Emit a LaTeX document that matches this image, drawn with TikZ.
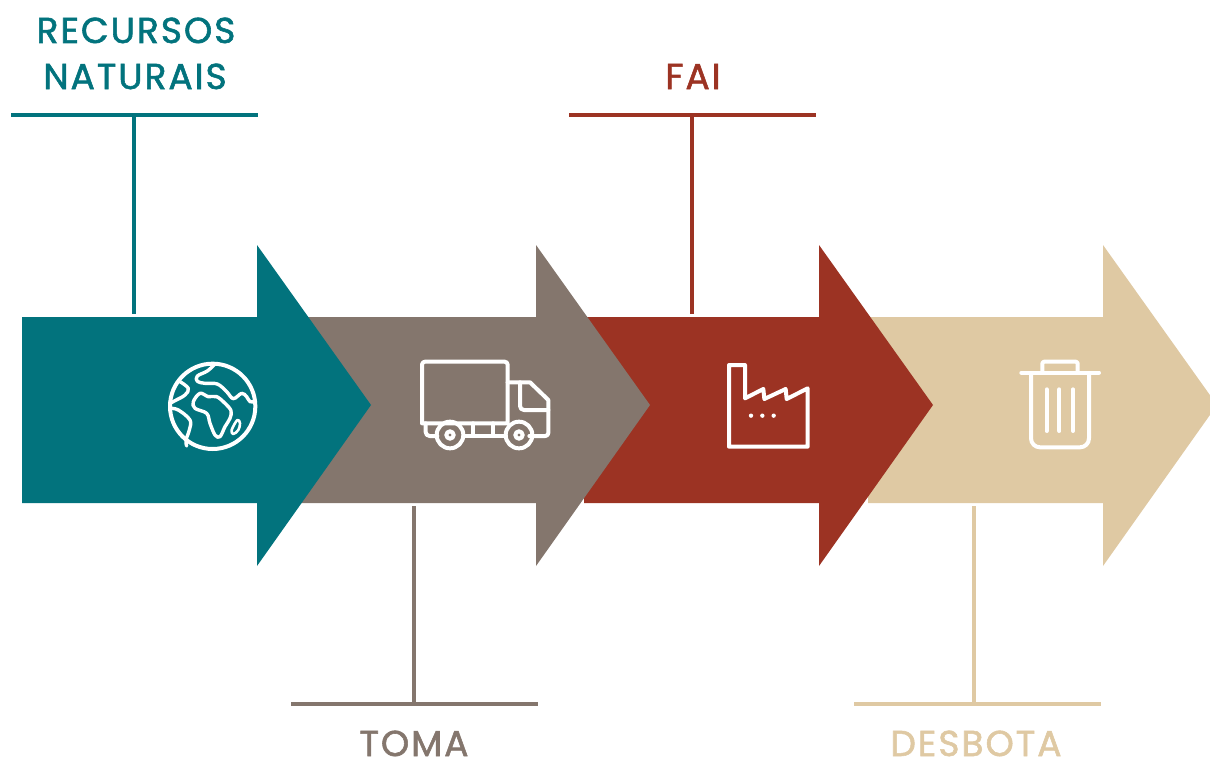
\documentclass[tikz,border=0pt]{standalone}
\usepackage{fontspec}
\setmainfont{Poppins}[RawFeature={embolden=1.6},LetterSpace=5.5]
\definecolor{cteal}{HTML}{02737D}
\definecolor{cgray}{HTML}{84766D}
\definecolor{cred}{HTML}{9C3323}
\definecolor{ctan}{HTML}{DFC9A3}
\tikzset{
  lab/.style={inner sep=0pt,font=\fontsize{36}{36}\selectfont,anchor=base},
  conn/.style={line width=4.5pt},
  icon/.style={draw=white,line width=4pt,line join=round,line cap=round},
}
\newcommand{\bigarrow}[2]{%
  \fill[#2] (#1,317) -- ++(235,0) -- ++(0,-72) -- ++(114,160) -- ++(-114,161) -- ++(0,-63) -- ++(-235,0) -- cycle;}
\begin{document}
\begin{tikzpicture}[x=1pt,y=-1pt]
\useasboundingbox (0,0) rectangle (1210,760);
% arrows, last one lowest
\bigarrow{868}{ctan}
\bigarrow{584}{cred}
\bigarrow{301}{cgray}
\bigarrow{22}{cteal}
% labels
\node[lab,text=cteal] (rec) at (136,43) {RECURSOS};
\node[lab,text=cteal] (nat) at (135,89) {NATURAIS};
\node[lab,text=cred] (fai) at (693,89) {FAI};
\node[lab,text=cgray] (toma) at (414,756) {TOMA};
\node[lab,text=ctan] (des) at (976,756) {DESBOTA};
% connectors
\coordinate (b1l) at (11,115); \coordinate (b1r) at (258,115);
\coordinate (b1m) at (134,115); \coordinate (a1) at (134,314);
\draw[conn,cteal] (b1l) -- (b1r); \draw[conn,cteal] (b1m) -- (a1);
\coordinate (b2l) at (291,704); \coordinate (b2r) at (538,704);
\coordinate (b2m) at (414,704); \coordinate (a2) at (414,506);
\draw[conn,cgray] (b2l) -- (b2r); \draw[conn,cgray] (b2m) -- (a2);
\coordinate (b3l) at (569,115); \coordinate (b3r) at (816,115);
\coordinate (b3m) at (692,115); \coordinate (a3) at (692,314);
\draw[conn,cred] (b3l) -- (b3r); \draw[conn,cred] (b3m) -- (a3);
\coordinate (b4l) at (854,704); \coordinate (b4r) at (1101,704);
\coordinate (b4m) at (974,704); \coordinate (a4) at (974,506);
\draw[conn,ctan] (b4l) -- (b4r); \draw[conn,ctan] (b4m) -- (a4);
% globe
\begin{scope}[shift={(150,340)},x=0.33333pt,y=-0.33333pt]
\draw[icon] (188,199) circle[radius=128];
\draw[icon,line width=3.4pt] plot[smooth,tension=0.6] coordinates {(195,72) (172,93) (142,108) (142,124) (165,130) (202,132) (230,155) (250,176) (275,160) (290,170) (300,185) (316,185)};
\draw[icon,line width=3.4pt] plot[smooth,tension=0.6] coordinates {(90,125) (115,145) (105,165) (75,182) (60,190)};
\draw[icon,line width=3.4pt] plot[smooth,tension=0.6] coordinates {(60,205) (85,210) (120,240) (118,270) (108,300) (110,318)};
\draw[icon,line width=3.4pt] plot[smooth cycle,tension=0.6] coordinates {(150,160) (130,185) (135,205) (170,220) (180,250) (195,285) (210,290) (225,260) (240,235) (243,212) (225,190) (200,170) (175,170)};
\draw[icon,line width=2.6pt] plot[smooth cycle,tension=0.6] coordinates {(262,240) (245,270) (250,282) (265,270) (270,250)};
\end{scope}
% truck
\begin{scope}[shift={(410,350)},x=0.33333pt,y=-0.33333pt]
\draw[icon] (293,220) -- (36,220) -- (36,45) [rounded corners=3pt] -- (36,35) -- (293,35) -- (293,220);
\draw[icon] (293,97) -- (360,97) -- (415,150) [rounded corners=3pt] -- (415,258) -- (358,258);
\draw[icon] [rounded corners=4pt] (330,97) -- (330,180) -- (415,180);
\draw[icon] [rounded corners=4pt] (47,220) -- (47,258) -- (82,258);
\draw[icon] (160,258) -- (288,258);
\draw[icon] (190,220) -- (190,258);
\draw[icon] (250,220) -- (250,258);
\draw[icon] (120,255) circle[radius=40];
\draw[icon] (120,255) circle[radius=11];
\draw[icon] (327,255) circle[radius=40];
\draw[icon] (327,255) circle[radius=11];
\end{scope}
% factory
\begin{scope}[shift={(715,350)},x=0.33333pt,y=-0.33333pt]
\draw[icon] (42,45) -- (90,45) -- (90,145) -- (145,117) -- (148,147) -- (212,117) -- (215,147) -- (278,115) -- (278,290) -- (42,290) -- cycle;
\fill[white] (108,197) circle[radius=6.5];
\fill[white] (142,197) circle[radius=6.5];
\fill[white] (176,197) circle[radius=6.5];
\end{scope}
% bin
\begin{scope}[shift={(1005,350)},x=0.33333pt,y=-0.33333pt]
\draw[icon] (49,68) -- (282,68);
\draw[icon] [rounded corners=2pt] (112,62) -- (112,35) -- (218,35) -- (218,62);
\draw[icon] [rounded corners=9pt] (78,70) -- (78,292) -- (252,292) -- (252,70);
\draw[icon] (125,118) -- (125,243);
\draw[icon] (163,118) -- (163,243);
\draw[icon] (204,118) -- (204,243);
\end{scope}
\end{tikzpicture}
\end{document}
